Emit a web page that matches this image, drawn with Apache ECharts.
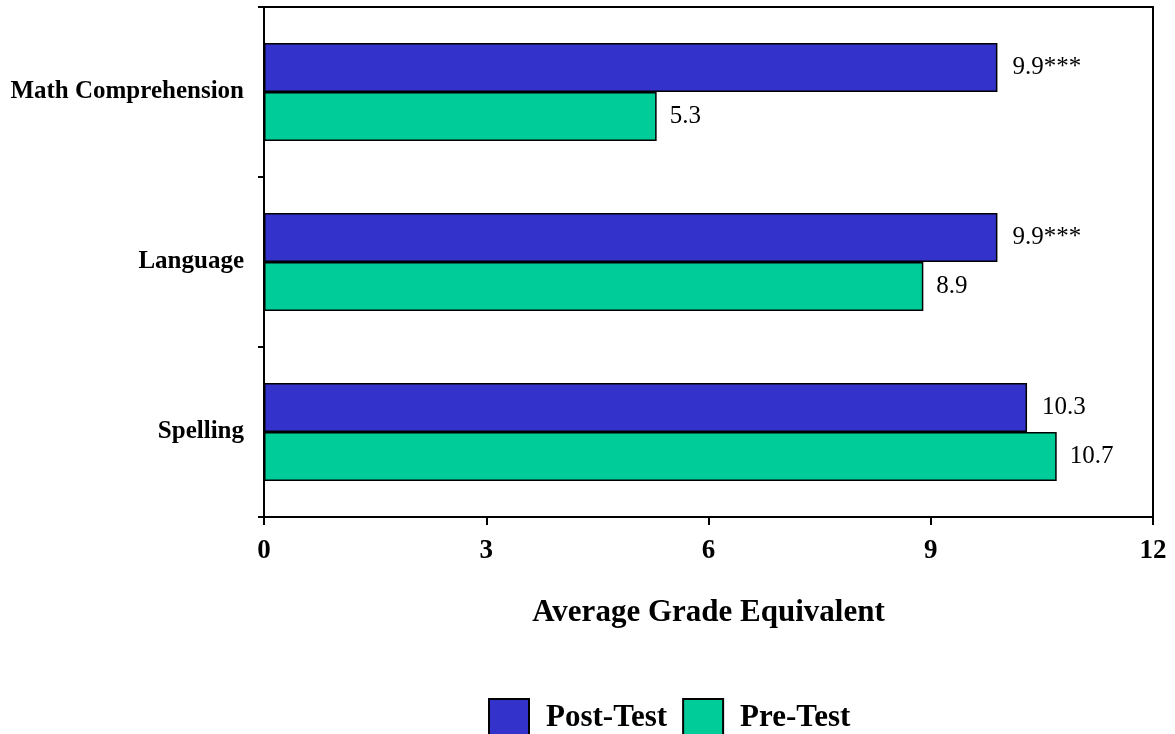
<!DOCTYPE html>
<html lang="en">
  <head>
    <meta charset="UTF-8" />
    <title>Average Grade Equivalent</title>
    <script src="https://cdn.jsdelivr.net/npm/echarts@6/dist/echarts.min.js"></script>
  </head>
  <body style="margin: 0">
    <div id="main" style="width: 1175px; height: 734px"></div>
    <script type="text/javascript">
      // data
      const categories = ["Math Comprehension", "Language", "Spelling"];
      const postTest = [9.9, 9.9, 10.3];
      const preTest = [5.3, 8.9, 10.7];
      const postLabels = ["9.9***", "9.9***", "10.3"];
      const xTicks = [0, 3, 6, 9, 12];

      const font = "'Liberation Serif', 'Times New Roman', serif";

      let myChart = echarts.init(document.getElementById("main"));

      let options = {
        animation: false,
        textStyle: { fontFamily: font, color: "#000" },
        grid: {
          left: 264,
          right: 22,
          top: 7,
          bottom: 217,
          show: true,
          borderColor: "#000",
          borderWidth: 2,
        },
        legend: {
          left: 483,
          top: 693,
          icon: "rect",
          itemWidth: 40,
          itemHeight: 38,
          itemGap: 15,
          textStyle: {
            fontFamily: font,
            fontSize: 31,
            fontWeight: "bold",
            color: "#000",
            padding: [0, 0, 0, 12],
          },
          data: ["Post-Test", "Pre-Test"],
        },
        xAxis: {
          type: "value",
          min: xTicks[0],
          max: xTicks[xTicks.length - 1],
          interval: 3,
          name: "Average Grade Equivalent",
          nameLocation: "middle",
          nameGap: 80,
          nameTextStyle: {
            fontFamily: font,
            fontSize: 31,
            fontWeight: "bold",
            color: "#000",
          },
          axisLine: { show: true, lineStyle: { color: "#000", width: 2 } },
          axisTick: { show: true, length: 8, lineStyle: { color: "#000", width: 2 } },
          axisLabel: {
            fontFamily: font,
            fontSize: 27,
            fontWeight: "bold",
            color: "#000",
            margin: 21,
          },
          splitLine: { show: false },
        },
        yAxis: {
          type: "category",
          inverse: true,
          data: categories,
          axisLine: { show: true, lineStyle: { color: "#000", width: 2 } },
          axisTick: { show: true, length: 6, lineStyle: { color: "#000", width: 2 } },
          axisLabel: {
            fontFamily: font,
            fontSize: 25,
            fontWeight: "bold",
            color: "#000",
            margin: 20,
          },
        },
        series: [
          {
            name: "Post-Test",
            type: "bar",
            data: postTest,
            barWidth: 49,
            barGap: "0%",
            itemStyle: { color: "#3333CC", borderColor: "#000", borderWidth: 1.5 },
            label: {
              show: true,
              position: "right",
              distance: 15,
              fontFamily: font,
              fontSize: 25,
              color: "#000",
              formatter: (p) => postLabels[p.dataIndex],
            },
          },
          {
            name: "Pre-Test",
            type: "bar",
            data: preTest,
            barWidth: 49,
            barGap: "0%",
            itemStyle: { color: "#00CC99", borderColor: "#000", borderWidth: 1.5 },
            label: {
              show: true,
              position: "right",
              distance: 13,
              fontFamily: font,
              fontSize: 25,
              color: "#000",
            },
          },
        ],
      };

      myChart.setOption(options);
    </script>
  </body>
</html>
